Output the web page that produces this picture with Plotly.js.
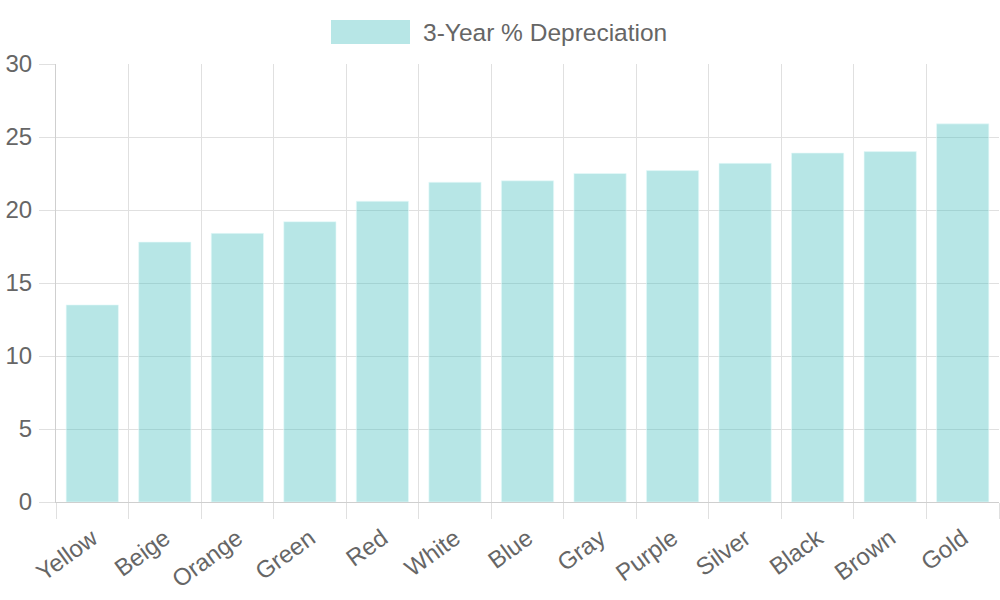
<!DOCTYPE html>
<html>
<head>
<meta charset="utf-8">
<script src="https://cdn.plot.ly/plotly-3.0.1.min.js"></script>
<style>html,body{margin:0;padding:0;background:#fff;}#chart{width:1000px;height:600px;}</style>
</head>
<body>
<div id="chart"></div>
<script>
const colors = ["Yellow","Beige","Orange","Green","Red","White","Blue","Gray","Purple","Silver","Black","Brown","Gold"];
const depreciation = [13.5,17.8,18.4,19.2,20.6,21.9,22.0,22.5,22.7,23.2,23.9,24.0,25.9];
const seriesName = "3-Year % Depreciation";
const yTicks = [0,5,10,15,20,25,30];

const fill = "rgba(75,192,192,0.4)";
const font = {family: "Liberation Sans, Arial, Helvetica, sans-serif", size: 24, color: "#666"};
const gridCol = "#e0e0e0";

const trace = {
  type: "bar",
  x: colors,
  y: depreciation,
  name: seriesName,
  marker: {color: fill, line: {width: 1, color: "rgba(230,250,250,0.6)"}},
  hoverinfo: "x+y"
};

const layout = {
  width: 1000, height: 600,
  margin: {l: 56, r: 1, t: 64, b: 98, pad: 0},
  paper_bgcolor: "#fff", plot_bgcolor: "#fff",
  font: font,
  showlegend: false,
  bargap: 0.28,
  xaxis: {
    type: "category",
    range: [-0.5, 12.5],
    tickson: "boundaries",
    ticks: "outside", ticklen: 16, tickcolor: gridCol, tickwidth: 1,
    ticklabelstandoff: 12,
    showgrid: true, gridcolor: gridCol, gridwidth: 1,
    showline: true, linecolor: "#cfcfcf", linewidth: 1,
    tickangle: -36,
    tickfont: font,
    fixedrange: true
  },
  yaxis: {
    range: [0, 30],
    tickvals: yTicks,
    ticktext: yTicks.map(String),
    ticks: "outside", ticklen: 16, tickcolor: gridCol, tickwidth: 1,
    ticklabelstandoff: 2,
    showgrid: true, gridcolor: gridCol, gridwidth: 1,
    zeroline: false,
    showline: true, linecolor: "#cfcfcf", linewidth: 1,
    tickfont: font,
    fixedrange: true
  },
  shapes: [{
    type: "rect", xref: "paper", yref: "paper",
    x0: (331-56)/943, x1: (410-56)/943,
    y0: (502-44)/438, y1: (502-20)/438,
    fillcolor: fill, line: {width: 0}
  }],
  annotations: [{
    xref: "paper", yref: "paper",
    x: (421-56)/943, y: (502-32)/438,
    xanchor: "left", yanchor: "middle",
    text: seriesName, showarrow: false,
    font: {family: font.family, size: 24.5, color: font.color}
  }]
};

Plotly.newPlot("chart", [trace], layout, {displayModeBar: false, staticPlot: true});
</script>
</body>
</html>
